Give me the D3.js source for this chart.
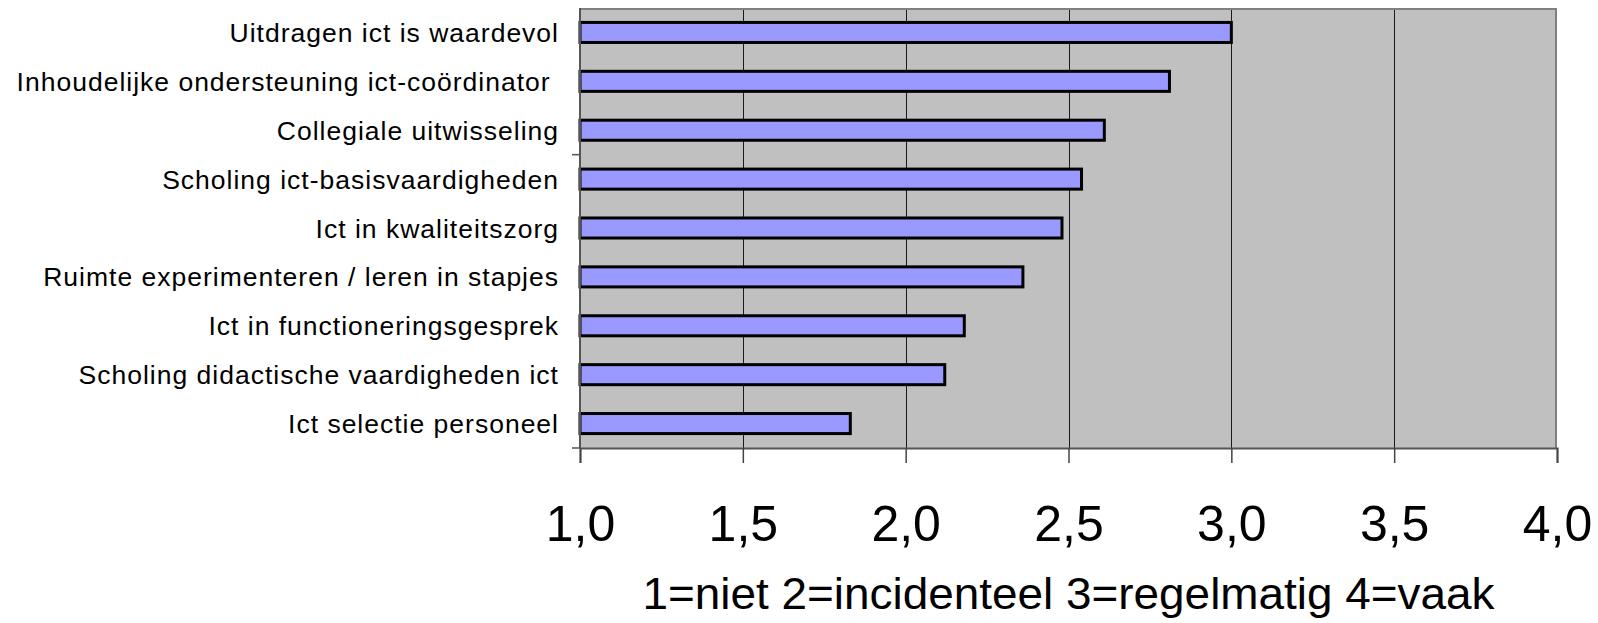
<!DOCTYPE html>
<html>
<head>
<meta charset="utf-8">
<script src="https://cdn.jsdelivr.net/npm/d3@7"></script>
<style>
  html, body { margin: 0; padding: 0; background: #fff; }
  svg { display: block; }
  text { font-family: "Liberation Sans", Arial, sans-serif; fill: #000; }
</style>
</head>
<body>
<svg id="chart" width="1598" height="623"></svg>
<script>
// Survey items, top to bottom
const categories = [
  "Uitdragen ict is waardevol",
  "Inhoudelijke ondersteuning ict-coördinator ",
  "Collegiale uitwisseling",
  "Scholing ict-basisvaardigheden",
  "Ict in kwaliteitszorg",
  "Ruimte experimenteren / leren in stapjes",
  "Ict in functioneringsgesprek",
  "Scholing didactische vaardigheden ict",
  "Ict selectie personeel"
];
// Mean score per item (1 = niet ... 4 = vaak)
const values = [3.00, 2.81, 2.61, 2.54, 2.48, 2.36, 2.18, 2.12, 1.83];
const xTicks = [1.0, 1.5, 2.0, 2.5, 3.0, 3.5, 4.0];
const xDomain = [1, 4];
const axisTitle = "1=niet 2=incidenteel 3=regelmatig 4=vaak";
// Category boundaries that carry a tick mark on the vertical axis
const categoryTickBoundaries = [3, 9];

const svg = d3.select("#chart");
const plot = { left: 580, right: 1557, top: 8, bottom: 448 };

const x = d3.scaleLinear().domain(xDomain).range([plot.left, plot.right]);
const y = d3.scaleBand().domain(categories).range([plot.top, plot.bottom])
  .paddingInner(0.59).paddingOuter(0.295);
const step = y.step();

// Plot background
svg.append("rect")
  .attr("x", plot.left).attr("y", plot.top)
  .attr("width", plot.right - plot.left).attr("height", plot.bottom - plot.top)
  .attr("fill", "#c0c0c0");

// Vertical gridlines
svg.append("g").selectAll("line")
  .data(xTicks.filter(t => t > xDomain[0] && t < xDomain[1]))
  .join("line")
  .attr("x1", d => Math.round(x(d)) + 0.5).attr("x2", d => Math.round(x(d)) + 0.5)
  .attr("y1", plot.top).attr("y2", plot.bottom)
  .attr("stroke", "#1a1a1a").attr("stroke-width", 1);

// Frame: top and right edges
svg.append("path")
  .attr("d", `M${plot.left},${plot.top + 1}H${plot.right - 1}V${plot.bottom}`)
  .attr("fill", "none").attr("stroke", "#808080").attr("stroke-width", 2);

// Bars
svg.append("g").selectAll("rect")
  .data(categories.map((c, i) => ({ c, v: values[i] })))
  .join("rect")
  .attr("x", x(xDomain[0]))
  .attr("y", d => y(d.c))
  .attr("width", d => x(d.v) - x(xDomain[0]))
  .attr("height", y.bandwidth())
  .attr("fill", "#9999ff")
  .attr("stroke", "#000")
  .attr("stroke-width", 3);

// Value axis (bottom)
const xAxis = d3.axisBottom(x).tickValues(xTicks).tickSize(15).tickPadding(40)
  .tickFormat(d => d3.format(".1f")(d).replace(".", ","));
const gx = svg.append("g").attr("transform", `translate(0,${plot.bottom})`).call(xAxis);
gx.select(".domain").attr("stroke", "#555").attr("stroke-width", 2);
gx.selectAll(".tick line").attr("stroke", "#444").attr("stroke-width", 1.5);
gx.selectAll(".tick text")
  .attr("font-family", "'Liberation Sans', Arial, sans-serif")
  .attr("font-size", 50).attr("fill", "#000")
  .attr("dy", "0.75em");

// Category axis (left)
svg.append("line")
  .attr("x1", plot.left).attr("x2", plot.left)
  .attr("y1", plot.top).attr("y2", plot.bottom)
  .attr("stroke", "#555").attr("stroke-width", 2);
svg.append("g").selectAll("line")
  .data(categoryTickBoundaries)
  .join("line")
  .attr("x1", plot.left - 8).attr("x2", plot.left)
  .attr("y1", d => y.range()[0] + d * step).attr("y2", d => y.range()[0] + d * step)
  .attr("stroke", "#555").attr("stroke-width", 1.5);

// Category labels
svg.append("g").selectAll("text")
  .data(categories)
  .join("text")
  .attr("x", plot.left - 21)
  .attr("y", d => y(d) + y.bandwidth() / 2)
  .attr("dy", "0.36em")
  .attr("text-anchor", "end")
  .attr("font-size", 26.5)
  .attr("letter-spacing", 1.0)
  .style("white-space", "pre")
  .text(d => d);

// Axis title
svg.append("text")
  .attr("x", (plot.left + plot.right) / 2)
  .attr("y", 609)
  .attr("text-anchor", "middle")
  .attr("font-size", 44)
  .attr("textLength", 852)
  .attr("lengthAdjust", "spacingAndGlyphs")
  .text(axisTitle);
</script>
</body>
</html>
